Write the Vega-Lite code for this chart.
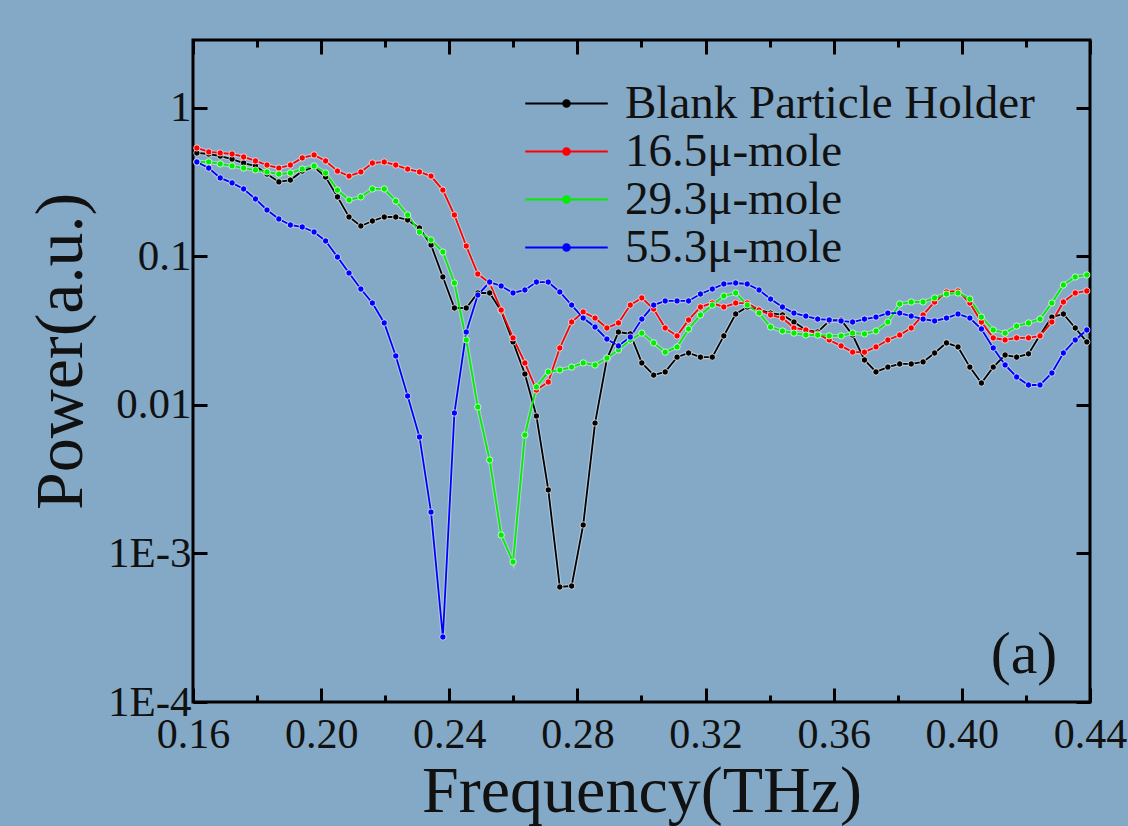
{
  "$schema": "https://vega.github.io/schema/vega-lite/v6.json",
  "width": 897,
  "height": 662,
  "autosize": {"type": "none"},
  "padding": {"left": 193, "top": 40, "right": 38, "bottom": 124},
  "background": "#84a9c6",
  "config": {
    "font": "Liberation Serif, Times New Roman, DejaVu Serif, serif",
    "view": {"stroke": "#000000", "strokeWidth": 3},
    "axis": {"grid": false, "domain": false, "tickColor": "#000000", "tickWidth": 3, "labelFont": "Liberation Serif, Times New Roman, DejaVu Serif, serif", "titleFont": "Liberation Serif, Times New Roman, DejaVu Serif, serif", "labelColor": "#111111", "titleColor": "#111111", "titleFontWeight": "normal"},
    "legend": {"labelFont": "Liberation Serif, Times New Roman, DejaVu Serif, serif"},
    "text": {"font": "Liberation Serif, Times New Roman, DejaVu Serif, serif"}
  },
  "data": {"values": [
    {"f":0.1612,"A":0.498,"B":0.538,"C":0.433,"D":0.433},
    {"f":0.1649,"A":0.490,"B":0.506,"C":0.433,"D":0.394},
    {"f":0.1685,"A":0.475,"B":0.498,"C":0.420,"D":0.338},
    {"f":0.1722,"A":0.453,"B":0.490,"C":0.407,"D":0.313},
    {"f":0.1758,"A":0.426,"B":0.468,"C":0.394,"D":0.285},
    {"f":0.1795,"A":0.407,"B":0.440,"C":0.382,"D":0.244},
    {"f":0.1831,"A":0.359,"B":0.413,"C":0.371,"D":0.2056},
    {"f":0.1868,"A":0.318,"B":0.394,"C":0.359,"D":0.1789},
    {"f":0.1904,"A":0.327,"B":0.413,"C":0.365,"D":0.1630},
    {"f":0.1941,"A":0.376,"B":0.461,"C":0.388,"D":0.1580},
    {"f":0.1978,"A":0.401,"B":0.483,"C":0.407,"D":0.1462},
    {"f":0.2014,"A":0.343,"B":0.440,"C":0.365,"D":0.1272},
    {"f":0.2051,"A":0.252,"B":0.376,"C":0.280,"D":0.0992},
    {"f":0.2087,"A":0.1845,"B":0.348,"C":0.240,"D":0.0774},
    {"f":0.2124,"A":0.1605,"B":0.371,"C":0.252,"D":0.0604},
    {"f":0.2160,"A":0.1734,"B":0.426,"C":0.285,"D":0.0486},
    {"f":0.2197,"A":0.1845,"B":0.433,"C":0.285,"D":0.0357},
    {"f":0.2233,"A":0.1845,"B":0.413,"C":0.236,"D":0.0214},
    {"f":0.2270,"A":0.1762,"B":0.388,"C":0.1903,"D":0.0115},
    {"f":0.2307,"A":0.1555,"B":0.371,"C":0.1462,"D":0.00609},
    {"f":0.2343,"A":0.1195,"B":0.348,"C":0.1292,"D":0.00190},
    {"f":0.2380,"A":0.0728,"B":0.280,"C":0.1072,"D":0.000274},
    {"f":0.2416,"A":0.0450,"B":0.1903,"C":0.0663,"D":0.00883},
    {"f":0.2453,"A":0.0450,"B":0.1177,"C":0.0274,"D":0.0310},
    {"f":0.2489,"A":0.0568,"B":0.0762,"C":0.00969,"D":0.0550},
    {"f":0.2526,"A":0.0568,"B":0.0663,"C":0.00426,"D":0.0673},
    {"f":0.2562,"A":0.0430,"B":0.0436,"C":0.001332,"D":0.0633},
    {"f":0.2599,"A":0.0266,"B":0.0283,"C":0.000877,"D":0.0568},
    {"f":0.2636,"A":0.01617,"B":0.0192,"C":0.00628,"D":0.0595},
    {"f":0.2672,"A":0.00843,"B":0.01262,"C":0.01322,"D":0.0673},
    {"f":0.2709,"A":0.00268,"B":0.01428,"C":0.0167,"D":0.0673},
    {"f":0.2745,"A":0.000595,"B":0.0242,"C":0.0172,"D":0.0577},
    {"f":0.2782,"A":0.000604,"B":0.0362,"C":0.0180,"D":0.0471},
    {"f":0.2818,"A":0.001556,"B":0.0423,"C":0.0192,"D":0.0385},
    {"f":0.2855,"A":0.00756,"B":0.0385,"C":0.0186,"D":0.0335},
    {"f":0.2892,"A":0.0204,"B":0.0330,"C":0.0207,"D":0.0278},
    {"f":0.2928,"A":0.0310,"B":0.0357,"C":0.0235,"D":0.0250},
    {"f":0.2965,"A":0.0301,"B":0.0471,"C":0.0274,"D":0.0287},
    {"f":0.3001,"A":0.0192,"B":0.0526,"C":0.0305,"D":0.0379},
    {"f":0.3038,"A":0.0159,"B":0.0443,"C":0.0262,"D":0.0471},
    {"f":0.3074,"A":0.0167,"B":0.0330,"C":0.0227,"D":0.0502},
    {"f":0.3111,"A":0.0210,"B":0.0292,"C":0.0246,"D":0.0502},
    {"f":0.3147,"A":0.0224,"B":0.0374,"C":0.0325,"D":0.0502},
    {"f":0.3184,"A":0.0210,"B":0.0457,"C":0.0404,"D":0.0559},
    {"f":0.3221,"A":0.0210,"B":0.0486,"C":0.0471,"D":0.0604},
    {"f":0.3257,"A":0.0292,"B":0.0457,"C":0.0542,"D":0.0653},
    {"f":0.3294,"A":0.0410,"B":0.0486,"C":0.0568,"D":0.0663},
    {"f":0.3330,"A":0.0457,"B":0.0486,"C":0.0471,"D":0.0653},
    {"f":0.3367,"A":0.0436,"B":0.0436,"C":0.0416,"D":0.0595},
    {"f":0.3403,"A":0.0416,"B":0.0404,"C":0.0335,"D":0.0517},
    {"f":0.3440,"A":0.0404,"B":0.0385,"C":0.0315,"D":0.0457},
    {"f":0.3476,"A":0.0362,"B":0.0330,"C":0.0305,"D":0.0416},
    {"f":0.3513,"A":0.0320,"B":0.0320,"C":0.0296,"D":0.0397},
    {"f":0.3550,"A":0.0310,"B":0.0301,"C":0.0296,"D":0.0379},
    {"f":0.3586,"A":0.0368,"B":0.0274,"C":0.0292,"D":0.0374},
    {"f":0.3623,"A":0.0374,"B":0.0250,"C":0.0292,"D":0.0368},
    {"f":0.3659,"A":0.0296,"B":0.0227,"C":0.0305,"D":0.0362},
    {"f":0.3696,"A":0.0201,"B":0.0227,"C":0.0301,"D":0.0379},
    {"f":0.3732,"A":0.0167,"B":0.0246,"C":0.0315,"D":0.0391},
    {"f":0.3769,"A":0.0180,"B":0.0274,"C":0.0362,"D":0.0416},
    {"f":0.3806,"A":0.0189,"B":0.0296,"C":0.0479,"D":0.0416},
    {"f":0.3842,"A":0.0189,"B":0.0330,"C":0.0494,"D":0.0397},
    {"f":0.3879,"A":0.0195,"B":0.0404,"C":0.0494,"D":0.0379},
    {"f":0.3915,"A":0.0224,"B":0.0494,"C":0.0526,"D":0.0368},
    {"f":0.3952,"A":0.0262,"B":0.0577,"C":0.0559,"D":0.0385},
    {"f":0.3988,"A":0.0246,"B":0.0586,"C":0.0568,"D":0.0410},
    {"f":0.4025,"A":0.0180,"B":0.0486,"C":0.0517,"D":0.0385},
    {"f":0.4061,"A":0.01406,"B":0.0362,"C":0.0391,"D":0.0325},
    {"f":0.4098,"A":0.0180,"B":0.0283,"C":0.0320,"D":0.0242},
    {"f":0.4135,"A":0.0217,"B":0.0274,"C":0.0305,"D":0.0186},
    {"f":0.4171,"A":0.0210,"B":0.0283,"C":0.0340,"D":0.01544},
    {"f":0.4208,"A":0.0221,"B":0.0283,"C":0.0357,"D":0.01364},
    {"f":0.4244,"A":0.0296,"B":0.0292,"C":0.0379,"D":0.01364},
    {"f":0.4281,"A":0.0391,"B":0.0362,"C":0.0486,"D":0.01643},
    {"f":0.4317,"A":0.0410,"B":0.0494,"C":0.0643,"D":0.0224},
    {"f":0.4354,"A":0.0330,"B":0.0568,"C":0.0728,"D":0.0274},
    {"f":0.4390,"A":0.0266,"B":0.0586,"C":0.0751,"D":0.0320}
  ]},
  "transform": [{"fold": ["A", "B", "C", "D"], "as": ["s", "p"]}],
  "resolve": {"axis": {"x": "independent", "y": "independent"}},
  "layer": [
    {
      "mark": {"type": "line", "stroke": "white", "strokeWidth": 4, "opacity": 0.35},
      "encoding": {
        "x": {"field": "f", "type": "quantitative", "scale": {"domain": [0.16, 0.44], "nice": false, "zero": false},
          "axis": {"orient": "bottom", "values": [0.16, 0.2, 0.24, 0.28, 0.32, 0.36, 0.4, 0.44], "format": ".2f", "tickSize": -14, "labelFontSize": 42, "labelPadding": 26, "labelOverlap": false, "labelFlush": false, "labelBound": false, "title": "Frequency(THz)", "titleFontSize": 66, "titlePadding": 4}},
        "y": {"field": "p", "type": "quantitative", "scale": {"type": "log", "domain": [0.0001, 2.87], "nice": false},
          "axis": {"orient": "left", "values": [0.0001, 0.001, 0.01, 0.1, 1], "labelExpr": "datum.value == 1 ? '1' : datum.value == 0.1 ? '0.1' : datum.value == 0.01 ? '0.01' : datum.value == 0.001 ? '1E-3' : '1E-4'", "tickSize": -14, "labelFontSize": 43, "labelPadding": 16, "labelOverlap": false, "labelFlush": false, "title": "Power(a.u.)", "titleFontSize": 68, "titlePadding": 12, "titleY": 311}},
        "detail": {"field": "s"}
      }
    },
    {
      "mark": {"type": "line", "strokeWidth": 1.8},
      "encoding": {
        "x": {"field": "f", "type": "quantitative", "axis": null},
        "y": {"field": "p", "type": "quantitative", "axis": null},
        "color": {"field": "s", "type": "nominal",
          "scale": {"domain": ["A", "B", "C", "D"], "range": ["#000000", "#ff0000", "#00ee00", "#0000ff"]},
          "legend": {"orient": "none", "legendX": 350, "legendY": 40, "title": null,
            "labelExpr": "datum.label == 'A' ? 'Blank Particle Holder' : datum.label == 'B' ? '16.5μ-mole' : datum.label == 'C' ? '29.3μ-mole' : '55.3μ-mole'",
            "labelFontSize": 47, "labelColor": "#111111", "labelOffset": 35, "labelLimit": 0,
            "symbolType": "M-2.5,0H2.5M-0.2,0A0.2,0.2,0,1,1,0.2,0A0.2,0.2,0,1,1,-0.2,0Z",
            "symbolSize": 1089, "symbolStrokeWidth": 2, "rowPadding": 0,
            "encode": {"symbols": {"update": {"fill": {"scale": "color", "field": "value"}, "stroke": {"scale": "color", "field": "value"}, "strokeWidth": {"value": 2}, "opacity": {"value": 1}}}}}}
      }
    },
    {
      "mark": {"type": "point", "filled": true, "size": 40, "stroke": "white", "strokeWidth": 1, "strokeOpacity": 0.7, "opacity": 1},
      "encoding": {
        "x": {"field": "f", "type": "quantitative", "axis": null},
        "y": {"field": "p", "type": "quantitative", "axis": null},
        "fill": {"field": "s", "type": "nominal", "scale": {"domain": ["A", "B", "C", "D"], "range": ["#000000", "#ff0000", "#00ee00", "#0000ff"]}, "legend": null}
      }
    },
    {
      "mark": {"type": "point", "opacity": 0},
      "encoding": {
        "x": {"field": "f", "type": "quantitative", "axis": {"orient": "top", "values": [0.16, 0.2, 0.24, 0.28, 0.32, 0.36, 0.4, 0.44], "labels": false, "tickSize": -14, "title": null}},
        "y": {"field": "p", "type": "quantitative", "axis": {"orient": "right", "values": [0.0001, 0.001, 0.01, 0.1, 1], "labels": false, "tickSize": -14, "title": null}}
      }
    },
    {
      "mark": {"type": "point", "opacity": 0},
      "encoding": {
        "x": {"field": "f", "type": "quantitative", "axis": {"orient": "bottom", "values": [0.18, 0.22, 0.26, 0.3, 0.34, 0.38, 0.42], "labels": false, "tickSize": -7, "title": null}},
        "y": {"field": "p", "type": "quantitative", "axis": null}
      }
    },
    {
      "mark": {"type": "point", "opacity": 0},
      "encoding": {
        "x": {"field": "f", "type": "quantitative", "axis": {"orient": "top", "values": [0.18, 0.22, 0.26, 0.3, 0.34, 0.38, 0.42], "labels": false, "tickSize": -7, "title": null}},
        "y": {"field": "p", "type": "quantitative", "axis": null}
      }
    },
    {
      "data": {"values": [{"f": 0.4194, "p": 0.000207, "t": "(a)"}]},
      "transform": [],
      "mark": {"type": "text", "fontSize": 60, "color": "#111111", "align": "center", "baseline": "middle"},
      "encoding": {
        "x": {"field": "f", "type": "quantitative", "axis": null},
        "y": {"field": "p", "type": "quantitative", "axis": null},
        "text": {"field": "t"}
      }
    }
  ]
}
